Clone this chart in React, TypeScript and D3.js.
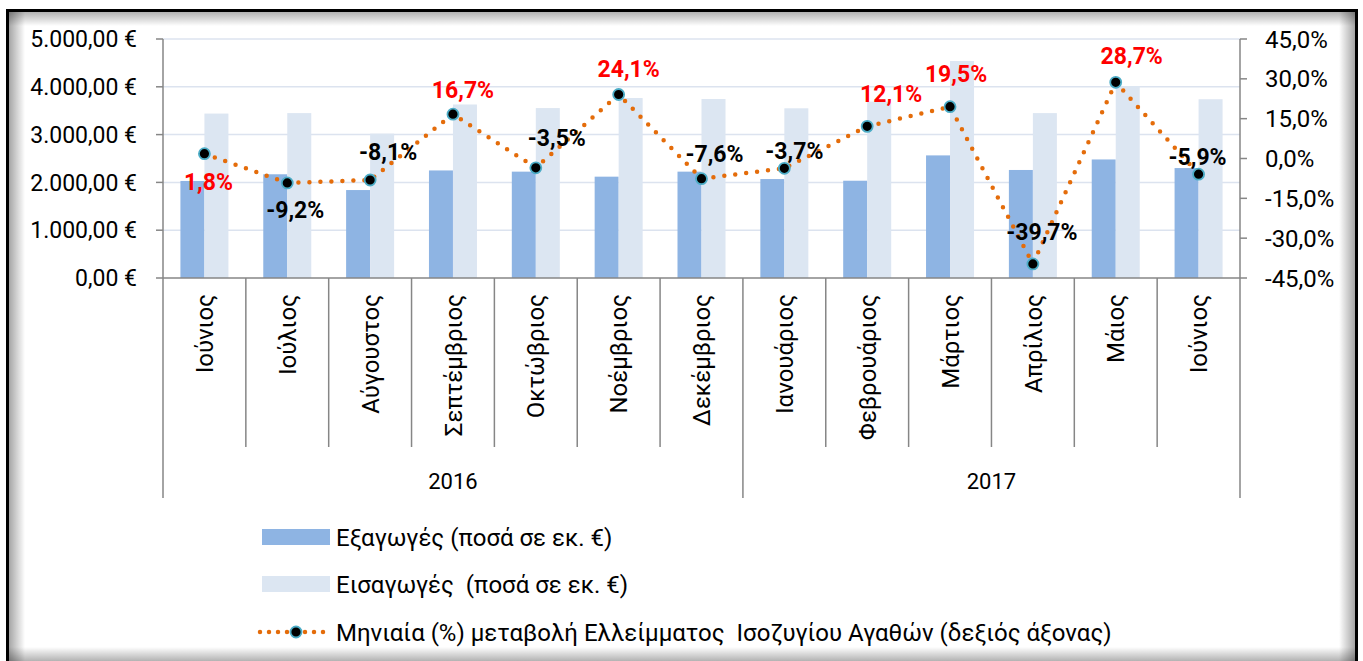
import * as React from 'react'
import * as d3 from 'd3'

const months = ['Ιούνιος', 'Ιούλιος', 'Αύγουστος', 'Σεπτέμβριος', 'Οκτώβριος', 'Νοέμβριος', 'Δεκέμβριος',
  'Ιανουάριος', 'Φεβρουάριος', 'Μάρτιος', 'Απρίλιος', 'Μάιος', 'Ιούνιος']
const years = [{ year: '2016', from: 0, to: 7 }, { year: '2017', from: 7, to: 13 }]
const exportsVal = [2030, 2170, 1840, 2250, 2225, 2120, 2225, 2070, 2035, 2565, 2260, 2480, 2300]
const importsVal = [3440, 3450, 3020, 3630, 3555, 3765, 3745, 3550, 3690, 4540, 3450, 4015, 3740]
const change = [1.8, -9.2, -8.1, 16.7, -3.5, 24.1, -7.6, -3.7, 12.1, 19.5, -39.7, 28.7, -5.9]
const leftTicks = [0, 1000, 2000, 3000, 4000, 5000]
const rightTicks = [-45, -30, -15, 0, 15, 30, 45]

// label nudges (dx, dy from the marker), the source labels were placed by hand
const labelNudge: [number, number][] = [[4, 28], [8, 27], [18, -28], [10, -24], [21, -30], [10, -26],
  [13, -25], [10, -18], [24, -33], [6, -33], [9, -32], [16, -27], [-1, -17]]

const FONT = 'Roboto, "Noto Sans", sans-serif'
const EXP = '#8EB4E3'
const IMP = '#DCE6F2'
const ORANGE = '#E46C0A'

const fmtEuro = (v: number) => d3.format(',.2f')(v).replace(/,/g, 'X').replace(/\./g, ',').replace(/X/g, '.') + ' €'
const fmtPct = (v: number) => v.toFixed(1).replace('.', ',') + '%'

export default function App() {
  const W = 1363, H = 661
  const left = 163, right = 1240, top = 39, bottom = 278

  const x = d3.scaleBand<number>().domain(d3.range(months.length)).range([left, right]).padding(0)
  const inner = d3.scaleBand<string>().domain(['exp', 'imp']).range([0, x.bandwidth()]).paddingInner(0).paddingOuter(0.726)
  const yL = d3.scaleLinear().domain([0, 5000]).range([bottom, top])
  const yR = d3.scaleLinear().domain([-45, 45]).range([bottom, top])
  const cx = (i: number) => (x(i) as number) + x.bandwidth() / 2

  const line = d3.line<number>().x((_, i) => cx(i)).y(d => yR(d))
  const boundaries = d3.range(months.length + 1).map(i => i === months.length ? right : (x(i) as number))
  const yearEdges = new Set<number>(years.flatMap(y => [y.from, y.to]))

  return (
    <div style={{ position: 'absolute', left: 0, top: 0 }}>
      <svg width={W} height={H} style={{ display: 'block', fontFamily: FONT }}>
        <defs>
          <linearGradient id="shL" x1="0" x2="1" y1="0" y2="0">
            <stop offset="0" stopColor="#000" stopOpacity="0.35" />
            <stop offset="1" stopColor="#000" stopOpacity="0" />
          </linearGradient>
          <linearGradient id="shR" x1="1" x2="0" y1="0" y2="0">
            <stop offset="0" stopColor="#000" stopOpacity="0.35" />
            <stop offset="1" stopColor="#000" stopOpacity="0" />
          </linearGradient>
          <linearGradient id="shT" x1="0" x2="0" y1="0" y2="1">
            <stop offset="0" stopColor="#000" stopOpacity="0.3" />
            <stop offset="1" stopColor="#000" stopOpacity="0" />
          </linearGradient>
          <linearGradient id="shB" x1="0" x2="0" y1="1" y2="0">
            <stop offset="0" stopColor="#000" stopOpacity="0.3" />
            <stop offset="1" stopColor="#000" stopOpacity="0" />
          </linearGradient>
        </defs>
        <rect x={0} y={0} width={W} height={H} fill="#fff" />
        {/* frame with inner shadow */}
        <rect x={9} y={12} width={16} height={H} fill="url(#shL)" />
        <rect x={1339} y={12} width={16} height={H} fill="url(#shR)" />
        <rect x={9} y={12} width={1346} height={14} fill="url(#shT)" />
        <rect x={9} y={647} width={1346} height={14} fill="url(#shB)" />
        <path d={`M7.5,${H + 5}V10.5H1356.5V${H + 5}`} fill="none" stroke="#000" strokeWidth={3} />

        {/* gridlines */}
        {leftTicks.slice(1).map(t => (
          <line key={t} x1={left} x2={right} y1={yL(t)} y2={yL(t)} stroke="#DCE3EF" strokeWidth={1.5} />
        ))}

        {/* bars */}
        {months.map((_, i) => (
          <g key={i}>
            <rect x={(x(i) as number) + (inner('exp') as number)} y={yL(exportsVal[i])}
              width={inner.bandwidth()} height={bottom - yL(exportsVal[i])} fill={EXP} />
            <rect x={(x(i) as number) + (inner('imp') as number)} y={yL(importsVal[i])}
              width={inner.bandwidth()} height={bottom - yL(importsVal[i])} fill={IMP} />
          </g>
        ))}

        {/* axes */}
        <g stroke="#868686" strokeWidth={1.5}>
          <line x1={left} x2={left} y1={top} y2={bottom} />
          <line x1={right} x2={right} y1={top} y2={bottom} />
          <line x1={left} x2={right} y1={bottom} y2={bottom} />
          {leftTicks.map(t => <line key={'l' + t} x1={left - 7} x2={left} y1={yL(t)} y2={yL(t)} />)}
          {rightTicks.map(t => <line key={'r' + t} x1={right} x2={right + 7} y1={yR(t)} y2={yR(t)} />)}
          {boundaries.map((b, i) => (
            <line key={'b' + i} x1={b} x2={b} y1={bottom} y2={yearEdges.has(i) ? 498 : 447} />
          ))}
        </g>
        {leftTicks.map(t => (
          <text key={'lt' + t} x={137} y={yL(t)} dy="0.36em" textAnchor="end" fontSize={23} fill="#000">{fmtEuro(t)}</text>
        ))}
        {rightTicks.map(t => (
          <text key={'rt' + t} x={1265} y={yR(t)} dy="0.36em" textAnchor="start" fontSize={24} fill="#000">{fmtPct(t)}</text>
        ))}
        {months.map((m, i) => (
          <text key={'m' + i} transform={`translate(${cx(i)},294) rotate(-90)`} textAnchor="end" dy="0.36em"
            fontSize={24} fill="#000">{m}</text>
        ))}
        {years.map(y => (
          <text key={y.year} x={(boundaries[y.from] + boundaries[y.to]) / 2} y={481} dy="0.36em"
            textAnchor="middle" fontSize={22} fill="#000">{y.year}</text>
        ))}

        {/* line series */}
        <path d={line(change) || ''} fill="none" stroke={ORANGE} strokeWidth={4.5}
          strokeLinecap="round" strokeDasharray="0 11" />
        {change.map((v, i) => (
          <circle key={'c' + i} cx={cx(i)} cy={yR(v)} r={5.5} fill="#000" stroke="#4BACC6" strokeWidth={1.8} />
        ))}
        {change.map((v, i) => (
          <text key={'v' + i} x={cx(i) + labelNudge[i][0]} y={yR(v) + labelNudge[i][1]} dy="0.36em"
            textAnchor="middle" fontSize={23} fontWeight="bold" fill={v > 0 ? '#FF0000' : '#000'}>{fmtPct(v)}</text>
        ))}

        {/* legend */}
        <rect x={262} y={529} width={68} height={16} fill={EXP} />
        <text x={336} y={537} dy="0.36em" fontSize={24} fill="#000">Εξαγωγές (ποσά σε εκ. €)</text>
        <rect x={262} y={576} width={68} height={16} fill={IMP} />
        <text x={336} y={584} dy="0.36em" fontSize={24} fill="#000" style={{ whiteSpace: 'pre' }}>Εισαγωγές  (ποσά σε εκ. €)</text>
        <line x1={260} x2={330} y1={632} y2={632} stroke={ORANGE} strokeWidth={4.5} strokeLinecap="round" strokeDasharray="0 9" />
        <circle cx={296} cy={632} r={5.5} fill="#000" stroke="#4BACC6" strokeWidth={1.8} />
        <text x={336} y={632} dy="0.36em" fontSize={24} fill="#000" style={{ whiteSpace: 'pre' }}>Μηνιαία (%) μεταβολή Ελλείμματος  Ισοζυγίου Αγαθών (δεξιός άξονας)</text>
      </svg>
    </div>
  )
}
